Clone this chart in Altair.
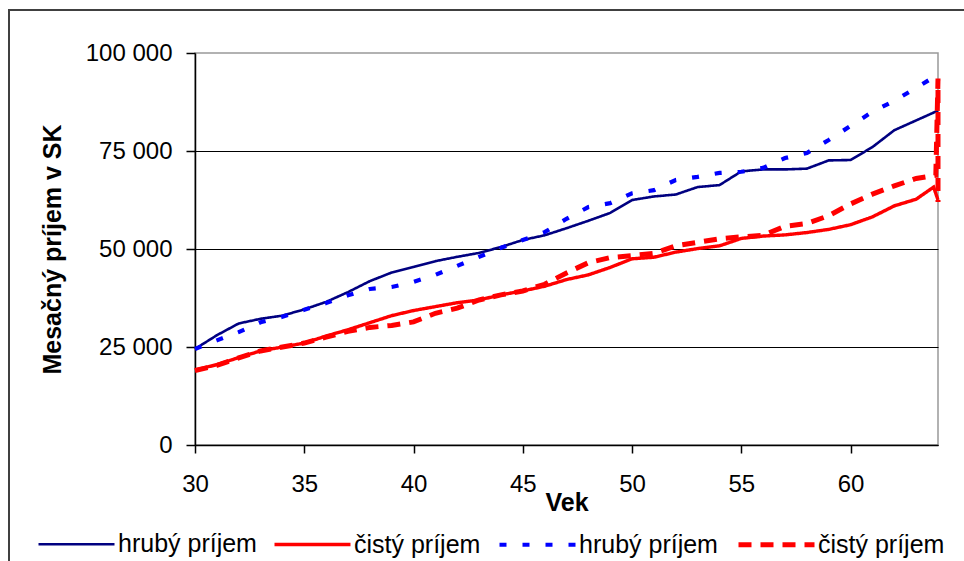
import altair as alt
import pandas as pd

# ---- data ----
series_names = ["hrubý príjem", "čistý príjem", "hrubý príjem ", "čistý príjem "]
series_colors = ["#000080", "#FF0000", "#0000FF", "#FF0000"]
series_dashes = [[1, 0], [1, 0], [7, 16], [13, 9]]
series_widths = [2.6, 5, 3, 5]

ages_gross = list(range(30, 65))
gross = [24500, 28000, 31000, 32200, 33000, 34600, 36500, 39000, 41800, 44000,
         45400, 46900, 48000, 49000, 50500, 52300, 53500, 55300, 57200, 59200,
         62500, 63400, 63900, 65800, 66300, 69800, 70300, 70300, 70500, 72600,
         72700, 76000, 80300, 82800, 85300]

ages_net = list(range(30, 64)) + [63.8, 64]
net = [19100, 20500, 22300, 24000, 25000, 26000, 27800, 29400, 31200, 33000,
       34300, 35300, 36300, 37000, 38300, 39300, 40500, 42200, 43400, 45300,
       47500, 47900, 49200, 50100, 50800, 52700, 53300, 53600, 54200, 55000,
       56200, 58200, 61000, 62700, 65800, 62500]

ages_gross2 = list(range(30, 65))
gross2 = [24500, 26700, 28800, 31300, 32700, 34500, 36200, 38200, 39800, 40300,
          41600, 43400, 45700, 48000, 50300, 52300, 54300, 57700, 60700, 61700,
          64200, 65000, 67600, 68400, 69400, 69700, 70700, 73200, 74500, 77800,
          81400, 85000, 87800, 91100, 94500]

ages_net2 = list(range(30, 64)) + [63.9, 64, 64]
net2 = [19000, 20300, 22200, 24000, 25000, 26000, 27500, 29000, 30000, 30500,
        31400, 33600, 34900, 37000, 38300, 39300, 41000, 43900, 46500, 47800,
        48300, 48900, 50800, 51700, 52600, 53100, 53500, 55800, 56500, 58500,
        61500, 64000, 66100, 68000, 68800, 93500, 62000]

x_ticks = [30, 35, 40, 45, 50, 55, 60]
y_ticks = [0, 25000, 50000, 75000, 100000]

rows = []
for name, ages, vals in zip(series_names,
                            [ages_gross, ages_net, ages_gross2, ages_net2],
                            [gross, net, gross2, net2]):
    for i, (a, v) in enumerate(zip(ages, vals)):
        rows.append({"series": name, "age": a, "value": v, "i": i})
df = pd.DataFrame(rows)

FONT = "Liberation Sans"

leg = alt.Legend(labelExpr="trim(datum.label)")

lines = alt.Chart(df).mark_line(clip=False, strokeCap="butt").encode(
    x=alt.X("age:Q", scale=alt.Scale(domain=[30, 64], nice=False, zero=False),
            axis=alt.Axis(values=x_ticks, title="Vek", grid=False, labelFlush=False,
                          titleY=57, titleBaseline="middle",
                          labelPadding=19, tickSize=8)),
    y=alt.Y("value:Q", scale=alt.Scale(domain=[0, 100000], nice=False),
            axis=alt.Axis(values=y_ticks, title="Mesačný príjem v SK",
                          labelExpr="replace(format(datum.value, ','), ',', ' ')",
                          tickSize=9, labelPadding=14,
                          titleX=-143, titleY=196, titleAngle=270,
                          titleBaseline="middle", titleAlign="center",
                          gridOpacity={"condition": {"test": "datum.value == 100000", "value": 0},
                                       "value": 1})),
    color=alt.Color("series:N", title=None, legend=leg,
                    scale=alt.Scale(domain=series_names, range=series_colors)),
    strokeDash=alt.StrokeDash("series:N", title=None, legend=leg,
                              scale=alt.Scale(domain=series_names, range=series_dashes)),
    strokeWidth=alt.StrokeWidth("series:N", title=None, legend=leg,
                                scale=alt.Scale(domain=series_names, range=series_widths)),
    order=alt.Order("i:Q"),
)

border = alt.Chart(alt.Data(values=[{"k": 1}])).mark_rect(
    filled=False, stroke="#404040", strokeWidth=2
).encode(
    x=alt.value(-186), y=alt.value(-43), x2=alt.value(800), y2=alt.value(600)
)

chart = alt.layer(lines, border).properties(
    width=743, height=392,
    autosize=alt.AutoSizeParams(type="none"),
    padding={"left": 195, "top": 53, "right": 26, "bottom": 116},
    background="white",
).configure_view(
    stroke="#999999", strokeWidth=1.5
).configure_axis(
    labelFont=FONT, labelFontSize=24, labelColor="black",
    titleFont=FONT, titleFontSize=25, titleFontWeight="bold", titleColor="black",
    domainColor="black", domainWidth=1.5, tickColor="black", tickWidth=1.5,
    gridColor="black", gridWidth=1.2,
).configure_legend(
    orient="none", legendX=-159, legendY=451, direction="horizontal",
    columns=4, columnPadding=10, labelOffset=1, symbolSize=5776,
    labelFont=FONT, labelFontSize=25, labelColor="black",
    symbolType="stroke",
)

chart.save("out.html", embed_options={"renderer": "svg", "actions": False})
